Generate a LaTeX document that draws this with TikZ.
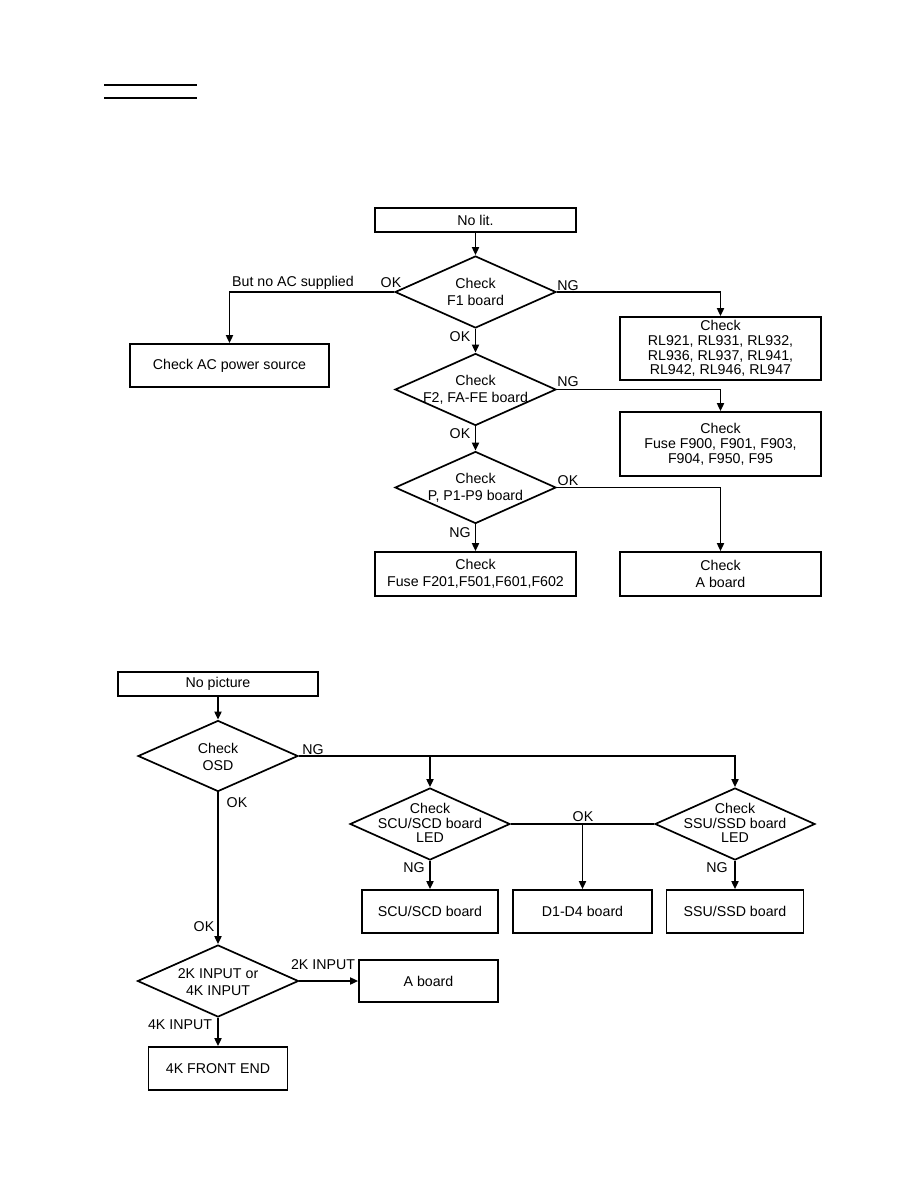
\documentclass[tikz,border=0pt]{standalone}
\usepackage{fontspec}
\setmainfont{Liberation Sans}
\usetikzlibrary{shapes.geometric,arrows.meta}
\begin{document}
\begin{tikzpicture}[x=1pt,y=-1pt,
  every node/.style={font=\fontsize{14.2}{17}\selectfont},
  box/.style={draw,line width=1.7pt,rectangle,inner sep=0pt,align=center},
  dia/.style={draw,line width=1.7pt,diamond,inner sep=0pt,minimum width=161pt,minimum height=72pt},
  dtext/.style={inner sep=0pt,align=center},
  lab/.style={inner sep=0pt,text height=10pt,text depth=0pt},
  conn/.style={line width=1.7pt},
  arr/.style={line width=1.7pt,-{Triangle[length=8pt,width=7pt]}}]
\useasboundingbox (0,0) rectangle (918,1188);
% heading rules
\draw[line width=1.7pt] (104,85) -- (197,85);
\draw[line width=1.7pt] (104,98) -- (197,98);
% ---------- top chart ----------
\node[box,minimum width=201pt,minimum height=24pt] (nolit) at (475.5,220) {No lit.};
\node[dia] (d1) at (475.5,292) {};
\node[dtext] (d1t) at (475.5,292) {Check\\F1 board};
\node[box,minimum width=199pt,minimum height=43pt] (acbox) at (229.5,365.5) {Check AC power source};
\node[box,minimum width=201pt,minimum height=63pt,font=\fontsize{14.2}{14.7}\selectfont] (rlbox) at (720.5,348.5) {Check\\RL921, RL931, RL932,\\RL936, RL937, RL941,\\RL942, RL946, RL947};
\node[dia] (d2) at (475.5,389.5) {};
\node[dtext] (d2t) at (475.5,389.5) {Check\\F2, FA-FE board};
\node[box,minimum width=201pt,minimum height=64pt,font=\fontsize{14.2}{15}\selectfont] (fusebox) at (720.5,444) {Check\\Fuse F900, F901, F903,\\F904, F950, F95};
\node[dia] (d3) at (475.5,487.5) {};
\node[dtext] (d3t) at (475.5,487.5) {Check\\P, P1-P9 board};
\node[box,minimum width=201pt,minimum height=44pt] (f201) at (475.5,574) {Check\\Fuse F201,F501,F601,F602};
\node[box,minimum width=201pt,minimum height=44pt] (aboard1) at (720.5,574) {Check\\A board};
\draw[arr] (nolit.south) -- (d1.north);
\draw[arr] (d1.west) -| (acbox.north);
\draw[arr] (d1.east) -| (rlbox.north);
\draw[arr] (d1.south) -- (d2.north);
\draw[arr] (d2.east) -| (fusebox.north);
\draw[arr] (d2.south) -- (d3.north);
\draw[arr] (d3.east) -| (aboard1.north);
\draw[arr] (d3.south) -- (f201.north);
\node[lab] (l1) at (391,282) {OK};
\node[lab] (l2) at (293,281) {But no AC supplied};
\node[lab] (l3) at (568,285) {NG};
\node[lab] (l4) at (460,336) {OK};
\node[lab] (l5) at (568,381) {NG};
\node[lab] (l6) at (460,433) {OK};
\node[lab] (l7) at (568,480) {OK};
\node[lab] (l8) at (460,532) {NG};
% ---------- bottom chart ----------
\node[box,minimum width=200pt,minimum height=24pt] (nopic) at (218,684) {No picture};
\node[dia,minimum height=71pt,minimum width=160pt] (osd) at (218,756) {};
\node[dtext] (osdt) at (218,757) {Check\\OSD};
\node[dia,minimum width=160pt] (scu) at (430,824) {};
\node[dtext,font=\fontsize{14.2}{14.6}\selectfont] (scut) at (430,823) {Check\\SCU/SCD board\\LED};
\node[dia,minimum width=160pt] (ssu) at (735,824) {};
\node[dtext,font=\fontsize{14.2}{14.6}\selectfont] (ssut) at (735,823) {Check\\SSU/SSD board\\LED};
\node[box,minimum width=136pt,minimum height=43pt] (scub) at (430,911.5) {SCU/SCD board};
\node[box,minimum width=139pt,minimum height=43pt] (d14) at (582.5,911.5) {D1-D4 board};
\node[box,minimum width=137pt,minimum height=43pt] (ssub) at (735,911.5) {SSU/SSD board};
\node[dia] (k2) at (218,981) {};
\node[dtext] (k2t) at (218,982) {2K INPUT or\\4K INPUT};
\node[box,minimum width=139pt,minimum height=42pt] (ab2) at (428.5,981) {A board};
\node[box,minimum width=139pt,minimum height=43pt] (fe) at (218,1068.5) {4K FRONT END};
\coordinate (okdrop) at (582.5,824);
\draw[arr] (nopic.south) -- (osd.north);
\draw[arr] (osd.east) -| (ssu.north);
\draw[arr] (scu.north |- osd.east) -- (scu.north);
\draw[conn] (scu.east) -- (ssu.west);
\draw[arr] (okdrop) -- (d14.north);
\draw[arr] (scu.south) -- (scub.north);
\draw[arr] (ssu.south) -- (ssub.north);
\draw[arr] (osd.south) -- (k2.north);
\draw[arr] (k2.east) -- (ab2.west);
\draw[arr] (k2.south) -- (fe.north);
\node[lab] (m1) at (313,749) {NG};
\node[lab] (m2) at (237,802) {OK};
\node[lab] (m3) at (583,816) {OK};
\node[lab] (m4) at (414,867) {NG};
\node[lab] (m5) at (717,867) {NG};
\node[lab] (m6) at (204,926) {OK};
\node[lab] (m7) at (323,964) {2K INPUT};
\node[lab] (m8) at (180,1024) {4K INPUT};
\end{tikzpicture}
\end{document}
